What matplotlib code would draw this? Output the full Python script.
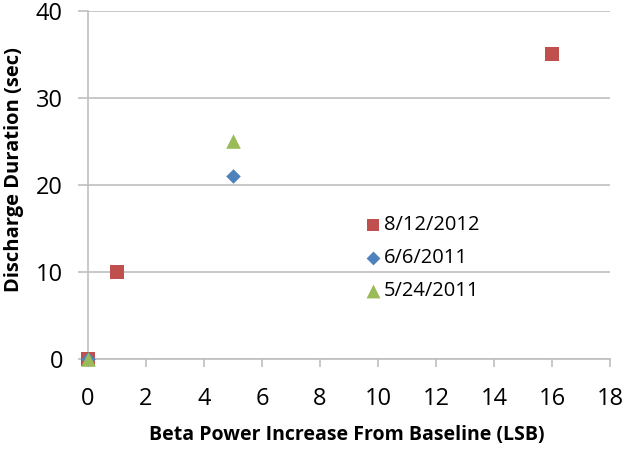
import matplotlib
matplotlib.use("Agg")
import matplotlib.pyplot as plt

series_names = ["8/12/2012", "6/6/2011", "5/24/2011"]
x_red = [0, 1, 16]
y_red = [0, 10, 35]
x_blue = [0, 5]
y_blue = [0, 21]
x_green = [0, 5]
y_green = [0, 25]
x_ticks = [0, 2, 4, 6, 8, 10, 12, 14, 16, 18]
y_ticks = [0, 10, 20, 30, 40]

plt.rcParams['font.family'] = ['Open Sans', 'DejaVu Sans']

fig = plt.figure(figsize=(6.3, 4.51), dpi=100)
ax = fig.add_axes([88/630, 1-359/451, (610-88)/630, (359-11)/451])

ax.scatter(x_red, y_red, marker='s', s=90, color='#C0504D', label=series_names[0], zorder=3, linewidths=0)
ax.scatter(x_blue, y_blue, marker='D', s=55, color='#4F81BD', label=series_names[1], zorder=3, linewidths=0)
ax.scatter(x_green, y_green, marker='^', s=110, color='#9BBB59', label=series_names[2], zorder=3, linewidths=0)

ax.set_xlim(0, 18)
ax.set_ylim(0, 40)
ax.set_xticks(x_ticks)
ax.set_yticks(y_ticks)
ax.yaxis.grid(True, color='#BFBFBF', linewidth=1.2)
ax.set_axisbelow(True)
for s in ['top', 'right']:
    ax.spines[s].set_visible(False)
for s in ['left', 'bottom']:
    ax.spines[s].set_color('#BFBFBF')
    ax.spines[s].set_linewidth(1.2)
ax.tick_params(axis='both', colors='#BFBFBF', labelcolor='black', labelsize=17, width=1.2)
ax.tick_params(axis='x', pad=14, length=6)
ax.tick_params(axis='y', pad=11, length=7)

ax.set_xlabel("Beta Power Increase From Baseline (LSB)", fontsize=14, fontweight='bold')
ax.set_ylabel("Discharge Duration (sec)", fontsize=14.5, fontweight='bold')
ax.xaxis.set_label_coords(0.496, -0.218)
ax.xaxis.label.set_va('center')
ax.yaxis.set_label_coords(-0.142, 0.543)
ax.yaxis.label.set_va('center')
ax.yaxis.label.set_ha('center')

for coll in ax.collections:
    coll.set_clip_on(False)

ax.legend(loc='center left', bbox_to_anchor=(0.527, 0.29), frameon=False, fontsize=14.5,
          handletextpad=0.05, borderaxespad=0, borderpad=0, labelspacing=0.66,
          handlelength=1.0, scatterpoints=1, markerscale=0.95)

fig.savefig("out.png", dpi=100)
